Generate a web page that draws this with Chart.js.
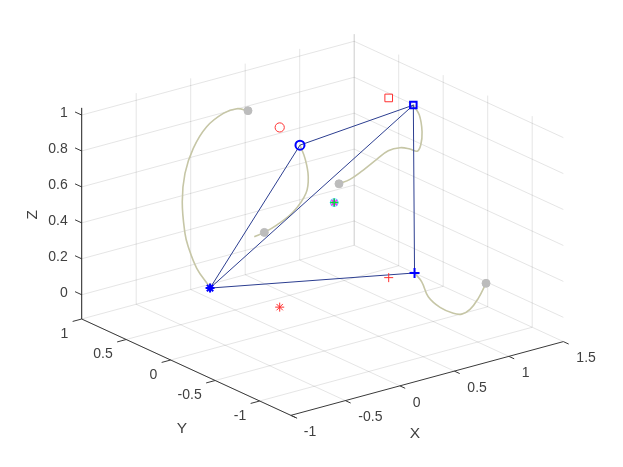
<!DOCTYPE html>
<html>
<head>
<meta charset="utf-8">
<style>
  html, body { margin: 0; padding: 0; background: #fff; }
  canvas { display: block; }
</style>
<script src="https://cdn.jsdelivr.net/npm/chart.js@4/dist/chart.umd.min.js"></script>
</head>
<body>
<canvas id="chart" width="623" height="467"></canvas>
<script>
// axis limits and ticks
const xLim = [-1, 1.5];
const yLim = [-1.35, 1];
const zLim = [-0.135, 1.04];
const xTicks = [-1, -0.5, 0, 0.5, 1, 1.5];
const yTicks = [1, 0.5, 0, -0.5, -1];
const zTicks = [0, 0.2, 0.4, 0.6, 0.8, 1];

// red reference points: star, plus, circle, square
const redX = [0, 1, 0, 1];
const redY = [0, 0, 0, 0];
const redZ = [-0.005, -0.005, 0.995, 0.995];

// blue points: star, circle, square, plus
const blueX = [-0.639, 0.186, 1.226, 1.237];
const blueY = [0, 0, 0, 0];
const blueZ = [0.206, 0.866, 0.918, -0.018];
const blueEdges = [[3, 0], [0, 1], [1, 2], [2, 3], [0, 2]];

// centre point
const centreX = [0.5];
const centreY = [0];
const centreZ = [0.495];

// curves (all in the plane y = 0)
const curveAX = [-0.291, -0.394, -0.517, -0.670, -0.793, -0.869, -0.894, -0.869, -0.839, -0.761, -0.655, -0.639];
const curveAZ = [1.136, 1.164, 1.158, 1.109, 1.009, 0.882, 0.728, 0.548, 0.469, 0.336, 0.225, 0.206];
const curveBX = [0.186, 0.232, 0.262, 0.241, 0.125, -0.028, -0.141, -0.233];
const curveBZ = [0.866, 0.785, 0.678, 0.589, 0.505, 0.456, 0.434, 0.425];
const curveCX = [0.544, 0.645, 0.767, 0.890, 0.996, 1.104, 1.195, 1.262, 1.294, 1.306, 1.281, 1.226];
const curveCZ = [0.592, 0.600, 0.632, 0.671, 0.702, 0.701, 0.679, 0.656, 0.685, 0.757, 0.854, 0.918];
const curveDX = [1.237, 1.303, 1.363, 1.471, 1.593, 1.670, 1.746, 1.822, 1.893];
const curveDZ = [-0.018, -0.078, -0.171, -0.248, -0.301, -0.318, -0.304, -0.255, -0.183];

// grey dots at the free end of each curve
const dotX = [-0.291, -0.141, 0.544, 1.893];
const dotZ = [1.136, 0.434, 0.592, -0.183];

// 3D view -> plane of the chart
const project = (x, y, z) => ({
  x: 81.7 + 109 * (x + 1) + 89 * (1 - y),
  y: 319 - 29.5 * (x + 1) + 41 * (1 - y) - 179.7 * (z - zLim[0]),
});

const GRID = 'rgba(38,38,38,0.12)';
const AXIS = '#3a3a3a';
const datasets = [];

const addLine = (points, color, width, order, tension = 0) => {
  datasets.push({
    data: points.map((p) => project(p[0], p[1], p[2])),
    showLine: true,
    borderColor: color,
    borderWidth: width,
    pointRadius: 0,
    tension,
    order,
  });
};

const addMark = (x, y, z, style, color, radius, width, order, fill = 'transparent') => {
  datasets.push({
    data: [project(x, y, z)],
    showLine: false,
    pointStyle: style,
    pointRadius: radius,
    pointBorderColor: color,
    pointBackgroundColor: fill,
    pointBorderWidth: width,
    order,
  });
};

// grid
xTicks.forEach((x) => {
  addLine([[x, yLim[1], zLim[0]], [x, yLim[1], zLim[1]]], GRID, 1, 6);
  addLine([[x, yLim[0], zLim[0]], [x, yLim[1], zLim[0]]], GRID, 1, 6);
});
yTicks.forEach((y) => {
  addLine([[xLim[1], y, zLim[0]], [xLim[1], y, zLim[1]]], GRID, 1, 6);
  addLine([[xLim[0], y, zLim[0]], [xLim[1], y, zLim[0]]], GRID, 1, 6);
});
zTicks.forEach((z) => {
  addLine([[xLim[0], yLim[1], z], [xLim[1], yLim[1], z]], GRID, 1, 6);
  addLine([[xLim[1], yLim[0], z], [xLim[1], yLim[1], z]], GRID, 1, 6);
});

// axes and tick marks
addLine([[xLim[0], yLim[1], zLim[0]], [xLim[0], yLim[1], zLim[1]]], '#262626', 1, 5);
addLine([[xLim[0], yLim[1], zLim[0]], [xLim[0], -1.42, zLim[0]]], AXIS, 1, 5);
addLine([[xLim[0], yLim[0], zLim[0]], [xLim[1], yLim[0], zLim[0]]], AXIS, 1, 5);
xTicks.forEach((x) => addLine([[x, yLim[0], zLim[0]], [x, yLim[0] - 0.06, zLim[0]]], AXIS, 1, 5));
yTicks.forEach((y) => addLine([[xLim[0], y, zLim[0]], [xLim[0] - 0.083, y, zLim[0]]], AXIS, 1, 5));
zTicks.forEach((z) => addLine([[xLim[0], yLim[1], z], [xLim[0], yLim[1] + 0.075, z]], AXIS, 1, 5));

// curves
[[curveAX, curveAZ], [curveBX, curveBZ], [curveCX, curveCZ], [curveDX, curveDZ]].forEach(([cx, cz]) => {
  addLine(cx.map((v, i) => [v, 0, cz[i]]), '#c6c6a6', 1.6, 4, 0.4);
});
dotX.forEach((v, i) => addMark(v, 0, dotZ[i], 'circle', '#bcbcbc', 4, 1, 3, '#bcbcbc'));

// blue shape
blueEdges.forEach(([a, b]) => {
  addLine([[blueX[a], blueY[a], blueZ[a]], [blueX[b], blueY[b], blueZ[b]]], '#2c3e90', 1, 2);
});
const BLUE = '#0000ff';
addMark(blueX[0], blueY[0], blueZ[0], 'star', BLUE, 4.5, 2, 1);
addMark(blueX[1], blueY[1], blueZ[1], 'circle', BLUE, 4.5, 2, 1);
addMark(blueX[2], blueY[2], blueZ[2], 'rect', BLUE, 4.6, 2, 1);
addMark(blueX[3], blueY[3], blueZ[3], 'cross', BLUE, 5, 2, 1);

// red points
const RED = '#ff3030';
addMark(redX[0], redY[0], redZ[0], 'star', RED, 4.5, 1, 1);
addMark(redX[1], redY[1], redZ[1], 'cross', RED, 4.5, 1, 1);
addMark(redX[2], redY[2], redZ[2], 'circle', RED, 4.6, 1, 1);
addMark(redX[3], redY[3], redZ[3], 'rect', RED, 5.4, 1, 1);

// centre marks
addMark(centreX[0], centreY[0], centreZ[0], 'circle', '#40ffff', 4, 1, 1.3);
addMark(centreX[0], centreY[0], centreZ[0], 'star', '#ff20ff', 4, 1.5, 1.2);
addMark(centreX[0], centreY[0], centreZ[0], 'cross', '#00e040', 4, 1.5, 1.1);

// tick labels and axis titles sit next to the projected tick positions
const axisText = {
  id: 'axisText',
  afterDraw(chart) {
    const { ctx, scales } = chart;
    const at = (x, y, z, dx, dy) => {
      const p = project(x, y, z);
      return [scales.x.getPixelForValue(p.x) + dx, scales.y.getPixelForValue(p.y) + dy];
    };
    const put = (text, x, y, z, dx, dy, align) => {
      ctx.textAlign = align;
      ctx.fillText(text, ...at(x, y, z, dx, dy));
    };
    ctx.save();
    ctx.fillStyle = '#404040';
    ctx.textBaseline = 'middle';
    ctx.font = '14px "Liberation Sans"';
    xTicks.forEach((x) => put(String(x), x, yLim[0], zLim[0], 13, 17, 'left'));
    yTicks.forEach((y) => put(String(y), xLim[0], y, zLim[0], -13.5, 15, 'right'));
    zTicks.forEach((z) => put(String(z), xLim[0], yLim[1], z, -14, -2, 'right'));
    ctx.font = '15.5px "Liberation Sans"';
    put('X', 0.125, yLim[0], zLim[0], 1.5, 52, 'center');
    put('Y', -1, -0.2, zLim[0], -6.5, 60.5, 'center');
    // Z title is rotated like a normal vertical axis title
    const [zx, zy] = at(xLim[0], yLim[1], 0.45, -48.7, 1);
    ctx.translate(zx, zy);
    ctx.rotate(-Math.PI / 2);
    ctx.textAlign = 'center';
    ctx.fillText('Z', 0, 0);
    ctx.restore();
  },
};

new Chart(document.getElementById('chart'), {
  type: 'scatter',
  data: { datasets },
  options: {
    responsive: false,
    animation: false,
    devicePixelRatio: 1,
    layout: { padding: 0, autoPadding: false },
    plugins: { legend: { display: false }, tooltip: { enabled: false } },
    scales: {
      x: { type: 'linear', display: false, min: 0, max: 623 },
      y: { type: 'linear', display: false, min: 0, max: 467, reverse: true },
    },
  },
  plugins: [axisText],
});
</script>
</body>
</html>
